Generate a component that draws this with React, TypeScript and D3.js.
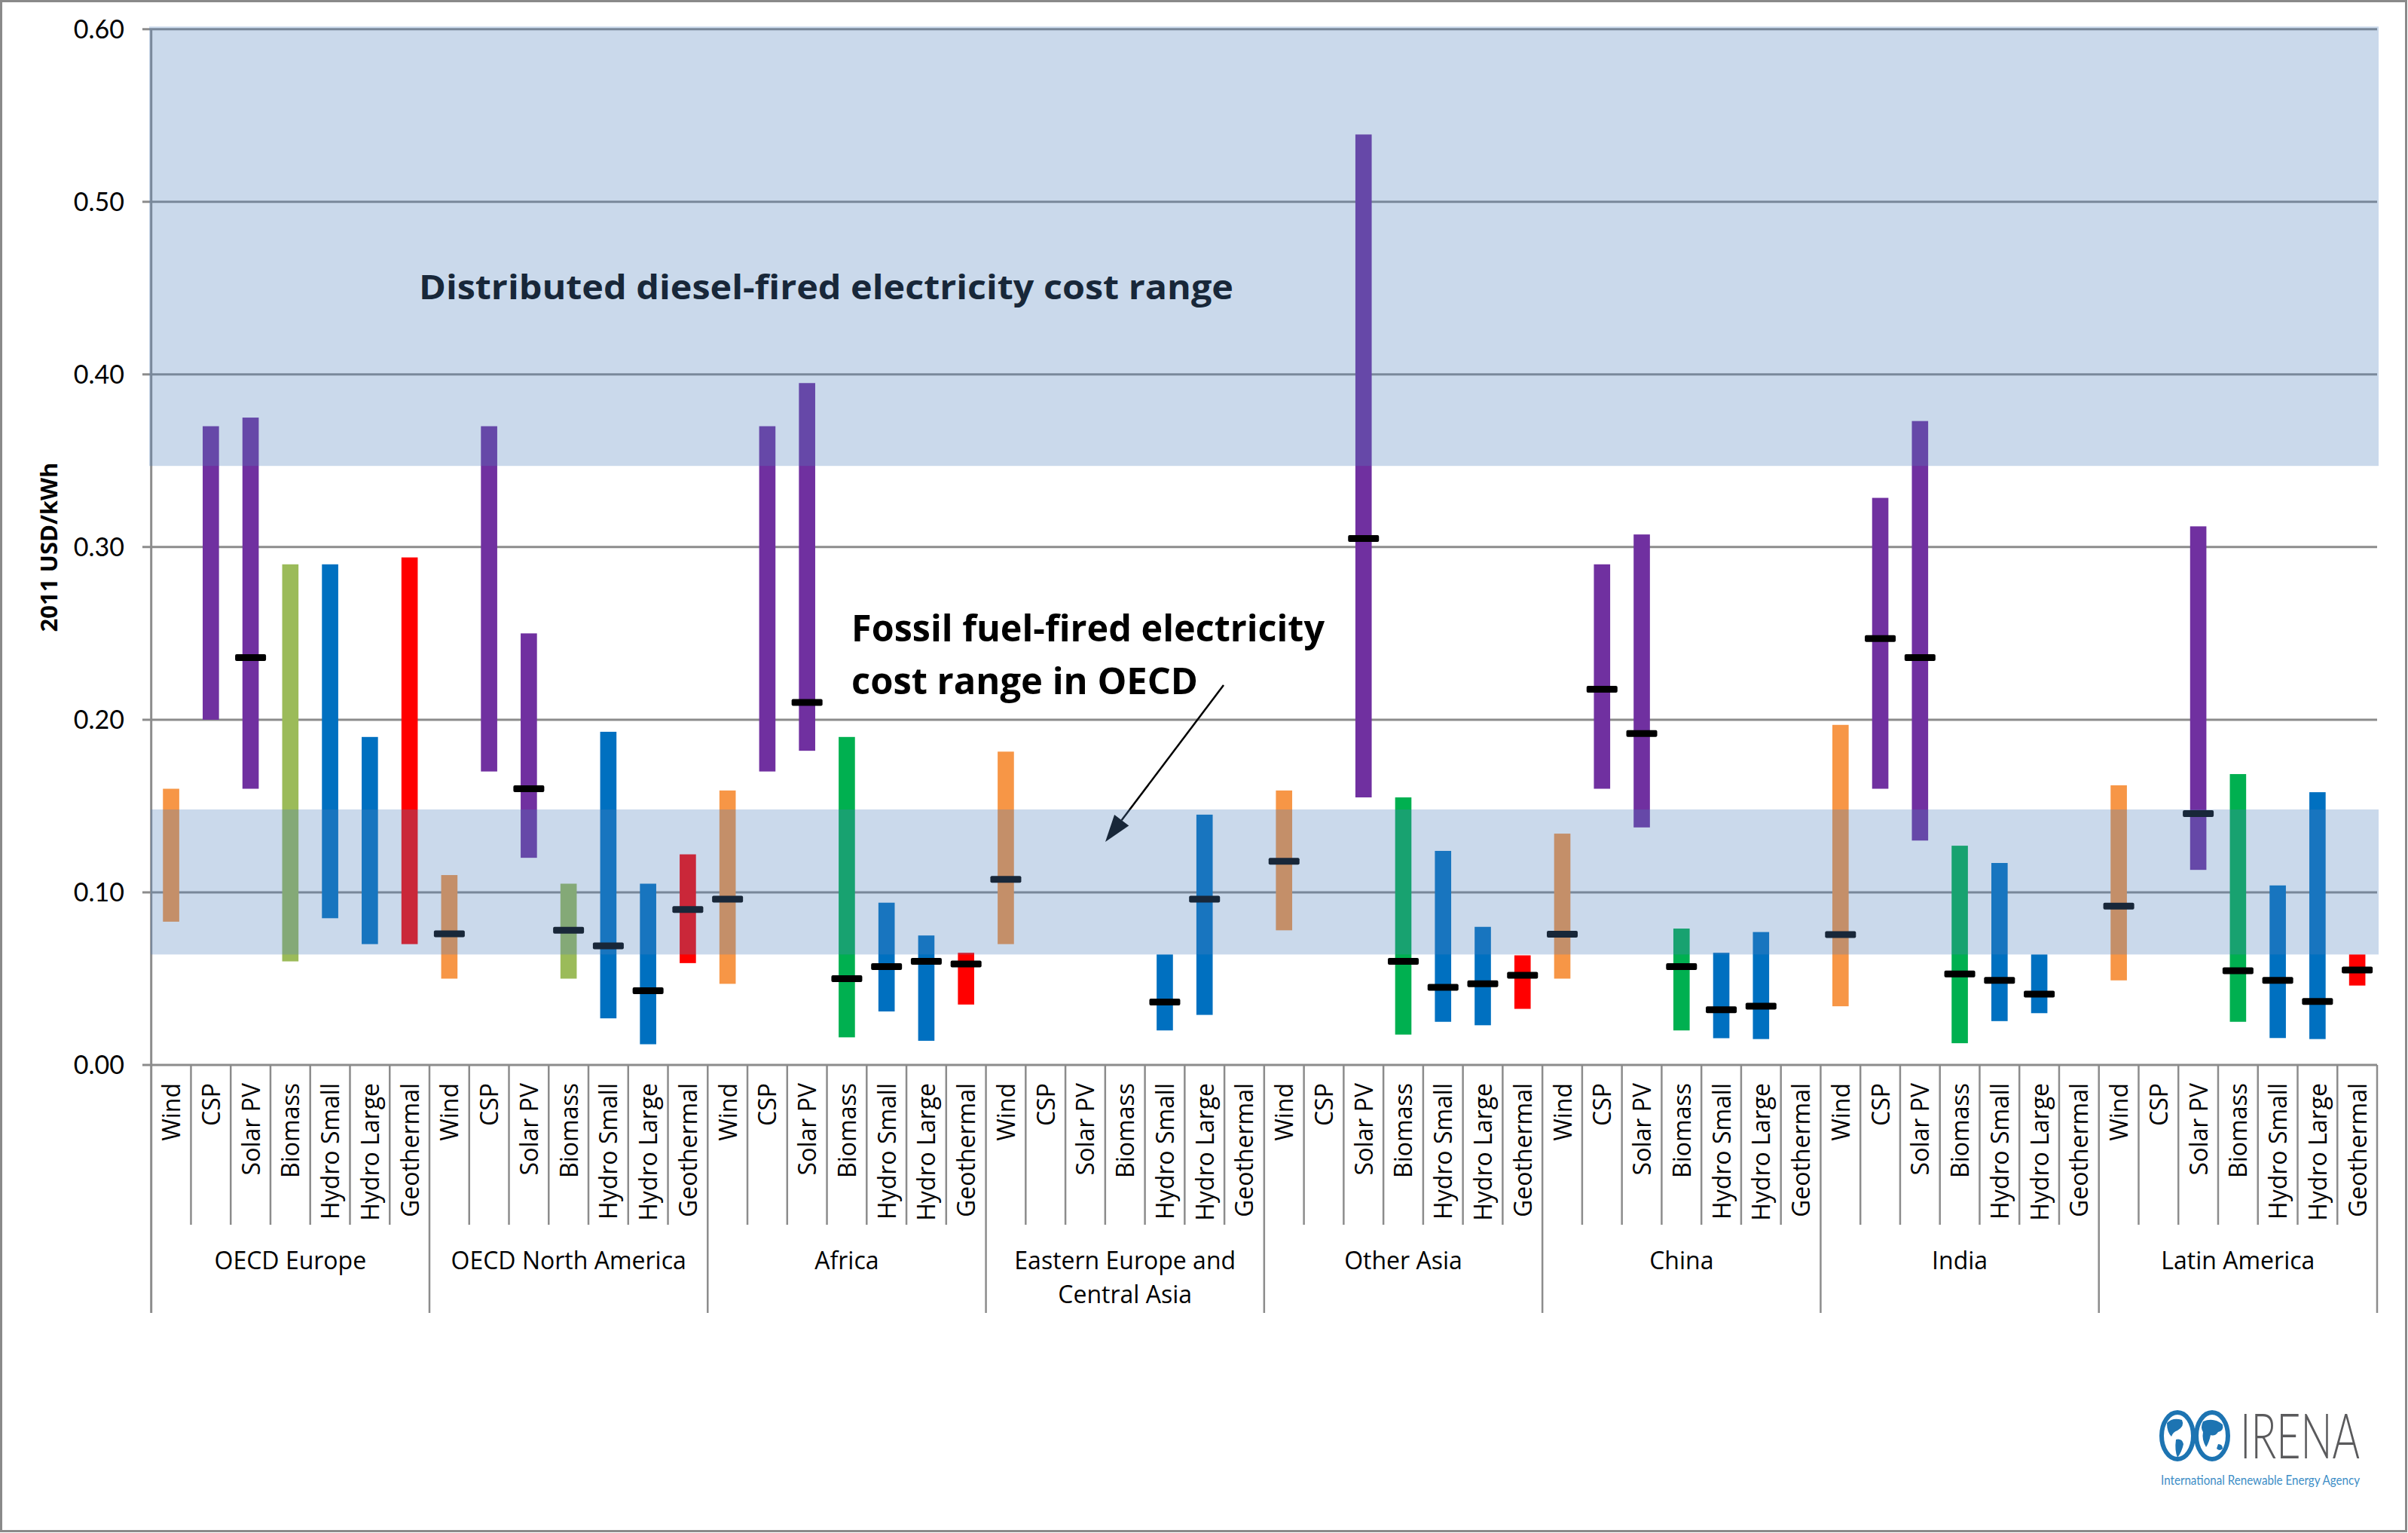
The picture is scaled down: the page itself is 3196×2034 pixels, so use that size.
import React from 'react';
import * as d3 from 'd3';

const W = 3196;
const H = 2034;

const regions = [
  'OECD Europe',
  'OECD North America',
  'Africa',
  'Eastern Europe and|Central Asia',
  'Other Asia',
  'China',
  'India',
  'Latin America',
];
const technologies = ['Wind', 'CSP', 'Solar PV', 'Biomass', 'Hydro Small', 'Hydro Large', 'Geothermal'];

// rows = regions, columns = technologies (null = no data)
const lowValues: (number | null)[][] = [
  [0.083, 0.2, 0.16, 0.06, 0.085, 0.07, 0.07],
  [0.05, 0.17, 0.12, 0.05, 0.027, 0.012, 0.059],
  [0.047, 0.17, 0.182, 0.016, 0.031, 0.014, 0.035],
  [0.07, null, null, null, 0.02, 0.029, null],
  [0.078, null, 0.155, 0.0176, 0.025, 0.023, 0.0325],
  [0.05, 0.16, 0.1376, 0.02, 0.0155, 0.015, null],
  [0.034, 0.16, 0.13, 0.0126, 0.0254, 0.03, null],
  [0.049, null, 0.113, 0.025, 0.0156, 0.015, 0.046],
];
const highValues: (number | null)[][] = [
  [0.16, 0.37, 0.375, 0.29, 0.29, 0.19, 0.294],
  [0.11, 0.37, 0.25, 0.105, 0.193, 0.105, 0.122],
  [0.159, 0.37, 0.395, 0.19, 0.094, 0.075, 0.065],
  [0.1815, null, null, null, 0.064, 0.145, null],
  [0.159, null, 0.539, 0.155, 0.124, 0.08, 0.0635],
  [0.134, 0.29, 0.3073, 0.079, 0.065, 0.077, null],
  [0.197, 0.3285, 0.373, 0.127, 0.117, 0.064, null],
  [0.162, null, 0.312, 0.1685, 0.104, 0.158, 0.064],
];
const medianValues: (number | null)[][] = [
  [null, null, 0.236, null, null, null, null],
  [0.076, null, 0.16, 0.078, 0.069, 0.043, 0.09],
  [0.096, null, 0.21, 0.05, 0.057, 0.06, 0.0585],
  [0.1075, null, null, null, 0.0365, 0.096, null],
  [0.118, null, 0.305, 0.06, 0.045, 0.047, 0.052],
  [0.0757, 0.2176, 0.192, 0.057, 0.032, 0.034, null],
  [0.0755, 0.247, 0.236, 0.0527, 0.049, 0.041, null],
  [0.092, null, 0.1456, 0.0546, 0.049, 0.0368, 0.055],
];

const yTicks = [0, 0.1, 0.2, 0.3, 0.4, 0.5, 0.6];
const dieselBand = [0.347, 0.6];
const fossilBand = [0.064, 0.148];

const techColors = ['#F79646', '#7030A0', '#7030A0', '#00B050', '#0070C0', '#0070C0', '#FF0000'];
const oecdBiomassColor = '#9BBB59';

const FONT = "'Open Sans', 'DejaVu Sans', sans-serif";

export default function App() {
  const nCat = regions.length * technologies.length;
  const x0 = 200.7;
  const x1 = 3155;
  const yBase = 1413;
  const yTop = 38.7;
  const xScale = d3
    .scaleBand<number>()
    .domain(d3.range(nCat))
    .range([x0, x1])
    .paddingInner(0)
    .paddingOuter(0);
  const bw = xScale.bandwidth();
  const yScale = d3.scaleLinear().domain([0, 0.6]).range([yBase, yTop]);
  const barW = bw * 0.41;
  const medW = 41;
  const medH = 9;

  const bars: JSX.Element[] = [];
  const meds: JSX.Element[] = [];
  regions.forEach((_, r) => {
    technologies.forEach((_, t) => {
      const i = r * technologies.length + t;
      const lo = lowValues[r][t];
      const hi = highValues[r][t];
      const cx = (xScale(i) as number) + bw / 2;
      if (lo != null && hi != null) {
        const color = t === 3 && r < 2 ? oecdBiomassColor : techColors[t];
        bars.push(
          <rect
            key={`b${i}`}
            x={cx - barW / 2}
            y={yScale(hi)}
            width={barW}
            height={yScale(lo) - yScale(hi)}
            fill={color}
          />
        );
      }
      const m = medianValues[r][t];
      if (m != null) {
        meds.push(
          <rect
            key={`m${i}`}
            x={cx - medW / 2}
            y={yScale(m) - medH / 2}
            width={medW}
            height={medH}
            rx={2}
            fill="#000"
          />
        );
      }
    });
  });

  const gridColor = '#8C8C8C';
  const sepEnd = 1625;
  const groupSepEnd = 1742;

  // arrow geometry
  const ax1 = 1624, ay1 = 909, ax2 = 1467, ay2 = 1117;
  const ang = Math.atan2(ay2 - ay1, ax2 - ax1);
  const headL = 36, headW = 12;
  const bx = ax2 - headL * Math.cos(ang);
  const by = ay2 - headL * Math.sin(ang);
  const px = -Math.sin(ang) * headW;
  const py = Math.cos(ang) * headW;
  const headPts = `${ax2},${ay2} ${bx + px},${by + py} ${bx - px},${by - py}`;

  return (
    <svg
      width={W}
      height={H}
      viewBox={`0 0 ${W} ${H}`}
      style={{ position: 'absolute', left: 0, top: 0, display: 'block', background: '#fff' }}
    >
      <rect x={0} y={0} width={W} height={H} fill="#fff" />
      <rect x={1.5} y={1.5} width={W - 4} height={H - 4} fill="none" stroke="#8A8A8A" strokeWidth={3} />

      {/* gridlines and ticks */}
      {yTicks.map((v) => (
        <line
          key={`g${v}`}
          x1={189}
          x2={x1}
          y1={yScale(v)}
          y2={yScale(v)}
          stroke={gridColor}
          strokeWidth={3}
        />
      ))}
      {yTicks.map((v) => (
        <text
          key={`yl${v}`}
          x={165}
          y={yScale(v) + 12}
          textAnchor="end"
          fontFamily="Lato, 'Open Sans', sans-serif"
          fontSize={34}
          fill="#000"
        >
          {v.toFixed(2)}
        </text>
      ))}

      {/* category separators */}
      {d3.range(nCat + 1).map((i) => {
        const x = i === nCat ? x1 : (xScale(i) as number);
        const isGroup = i % technologies.length === 0;
        return (
          <line
            key={`s${i}`}
            x1={x}
            x2={x}
            y1={i === 0 ? yTop : yBase}
            y2={isGroup ? groupSepEnd : sepEnd}
            stroke={gridColor}
            strokeWidth={i === 0 ? 3 : 2.5}
          />
        );
      })}

      {bars}
      {meds}

      {/* technology labels */}
      {d3.range(nCat).map((i) => {
        const cx = (xScale(i) as number) + bw / 2 + 12;
        const ly = 1437;
        return (
          <text
            key={`tl${i}`}
            x={cx}
            y={ly}
            transform={`rotate(-90 ${cx} ${ly})`}
            textAnchor="end"
            fontFamily={FONT}
            fontSize={32}
            fill="#000"
          >
            {technologies[i % technologies.length]}
          </text>
        );
      })}

      {/* region labels */}
      {regions.map((reg, r) => {
        const cx = (xScale(r * technologies.length) as number) + (bw * technologies.length) / 2;
        const lines = reg.split('|');
        return (
          <text key={`rl${r}`} textAnchor="middle" fontFamily={FONT} fontSize={32} fill="#000">
            {lines.map((ln, k) => (
              <tspan key={k} x={cx} y={1684 + k * 45}>
                {ln}
              </tspan>
            ))}
          </text>
        );
      })}

      {/* y axis title */}
      <text
        x={76}
        y={726}
        transform="rotate(-90 76 726)"
        textAnchor="middle"
        fontFamily={FONT}
        fontWeight={700}
        fontSize={31}
        fill="#000"
      >
        2011 USD/kWh
      </text>

      {/* annotations */}
      <text
        x={556}
        y={397}
        fontFamily={FONT}
        fontWeight={700}
        fontSize={45}
        textLength={1081}
        lengthAdjust="spacingAndGlyphs"
        fill="#000"
      >
        Distributed diesel-fired electricity cost range
      </text>
      <text
        x={1130}
        y={851}
        fontFamily={FONT}
        fontWeight={700}
        fontSize={48}
        textLength={628}
        lengthAdjust="spacingAndGlyphs"
        fill="#000"
      >
        Fossil fuel-fired electricity
      </text>
      <text
        x={1130}
        y={921}
        fontFamily={FONT}
        fontWeight={700}
        fontSize={48}
        textLength={460}
        lengthAdjust="spacingAndGlyphs"
        fill="#000"
      >
        cost range in OECD
      </text>
      <line x1={ax1} y1={ay1} x2={bx} y2={by} stroke="#000" strokeWidth={2.5} />
      <polygon points={headPts} fill="#000" />

      {/* shaded cost ranges */}
      <rect
        x={198}
        y={yScale(dieselBand[1]) - 3.5}
        width={3157 - 198}
        height={yScale(dieselBand[0]) - yScale(dieselBand[1]) + 3.5}
        fill="#4F81BD"
        fillOpacity={0.3}
      />
      <rect
        x={200}
        y={yScale(fossilBand[1])}
        width={3157 - 200}
        height={yScale(fossilBand[0]) - yScale(fossilBand[1])}
        fill="#4F81BD"
        fillOpacity={0.3}
      />

      {/* IRENA logo */}
      <g>
        <ellipse cx={2890} cy={1905} rx={21} ry={31} fill="none" stroke="#1D74B2" strokeWidth={6} />
        <ellipse cx={2936} cy={1905} rx={21} ry={31} fill="none" stroke="#1D74B2" strokeWidth={6} />
        <path d="M2876,1888 q8,-8 20,-4 q4,8 -6,14 q-6,2 -8,8 q-6,-6 -6,-18 z" fill="#1D74B2" />
        <path d="M2888,1910 q8,-2 10,6 q-2,10 -8,18 q-4,-10 -2,-24 z" fill="#1D74B2" />
        <path d="M2924,1886 q14,-6 26,4 q2,8 -6,10 q-4,6 -10,4 q-2,10 -6,16 q-6,-10 -4,-20 q-4,-6 0,-14 z" fill="#1D74B2" />
        <path d="M2944,1916 q6,0 6,6 q-4,4 -8,0 z" fill="#1D74B2" />
        <g transform="translate(2973 1935) scale(1 1.33)">
          <text
            x={0}
            y={0}
            fontFamily="Lato, 'Open Sans', sans-serif"
            fontWeight={300}
            fontSize={63}
            textLength={159}
            lengthAdjust="spacingAndGlyphs"
            fill="#5A5A5C"
          >
            IRENA
          </text>
        </g>
        <text
          x={2868}
          y={1970}
          fontFamily="Lato, 'Open Sans', sans-serif"
          fontSize={18}
          textLength={264}
          lengthAdjust="spacingAndGlyphs"
          fill="#3C8DC6"
        >
          International Renewable Energy Agency
        </text>
      </g>
    </svg>
  );
}
